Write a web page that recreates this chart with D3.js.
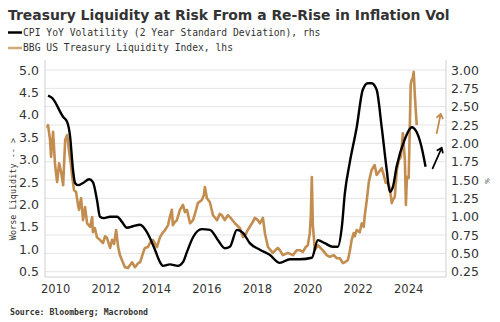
<!DOCTYPE html>
<meta charset="utf-8">
<script src="https://d3js.org/d3.v7.min.js"></script>
<style>
  body { margin: 0; background: #fff; }
  text { fill: #333; }
</style>
<div id="my_dataviz"></div>
<script>

  // CPI YoY volatility (rhs) - [year, value]
  var cpiYears = [2009.72, 2009.88, 2010.32, 2010.48, 2010.59, 2010.71, 2010.79, 2010.91, 2011.11, 2011.35,
    2011.50, 2011.66, 2011.78, 2011.94, 2012.18, 2012.46, 2012.65, 2012.85, 2013.09, 2013.37,
    2013.64, 2013.96, 2014.16, 2014.28, 2014.55, 2014.87, 2015.07, 2015.23, 2015.47, 2015.82,
    2016.14, 2016.46, 2016.73, 2016.93, 2017.21, 2017.45, 2017.72, 2018.12, 2018.51, 2018.91,
    2019.31, 2019.70, 2020.18, 2020.42, 2020.69, 2021.01, 2021.21, 2021.37, 2021.49, 2021.68,
    2021.96, 2022.20, 2022.40, 2022.55, 2022.75, 2022.95, 2023.15, 2023.27, 2023.39, 2023.54,
    2023.86, 2024.14, 2024.34, 2024.53, 2024.69];
  var cpiVol = [2.65, 2.62, 2.36, 2.29, 2.11, 1.64, 1.46, 1.43, 1.46, 1.51,
    1.47, 1.23, 1.00, 0.98, 1.00, 1.00, 0.93, 0.85, 0.87, 0.89,
    0.79, 0.55, 0.38, 0.33, 0.35, 0.33, 0.38, 0.52, 0.72, 0.83,
    0.82, 0.68, 0.57, 0.59, 0.82, 0.78, 0.64, 0.55, 0.48, 0.37,
    0.42, 0.42, 0.44, 0.68, 0.64, 0.59, 0.59, 0.86, 1.32, 1.73,
    2.22, 2.73, 2.82, 2.82, 2.73, 2.22, 1.64, 1.34, 1.40, 1.68,
    2.05, 2.22, 2.15, 1.95, 1.68];

  // BBG US Treasury liquidity index (lhs)
  var liqYears = [2009.68, 2009.72, 2009.80, 2009.84, 2009.92, 2010.00, 2010.08, 2010.16, 2010.24, 2010.32,
    2010.40, 2010.48, 2010.55, 2010.63, 2010.67, 2010.75, 2010.83, 2010.91, 2010.95, 2011.03,
    2011.11, 2011.19, 2011.27, 2011.39, 2011.47, 2011.50, 2011.58, 2011.66, 2011.78, 2011.90,
    2011.98, 2012.06, 2012.18, 2012.26, 2012.34, 2012.42, 2012.50, 2012.57, 2012.65, 2012.77,
    2012.89, 2013.05, 2013.17, 2013.29, 2013.37, 2013.49, 2013.56, 2013.68, 2013.76, 2013.88,
    2014.04, 2014.16, 2014.28, 2014.36, 2014.48, 2014.55, 2014.63, 2014.67, 2014.75, 2014.83,
    2014.95, 2015.07, 2015.15, 2015.23, 2015.35, 2015.47, 2015.59, 2015.66, 2015.82, 2015.90,
    2015.94, 2016.02, 2016.14, 2016.26, 2016.42, 2016.53, 2016.61, 2016.73, 2016.85, 2016.93,
    2017.13, 2017.33, 2017.45, 2017.56, 2017.64, 2017.84, 2017.92, 2018.04, 2018.12, 2018.24,
    2018.32, 2018.44, 2018.63, 2018.83, 2018.91, 2019.03, 2019.23, 2019.43, 2019.58, 2019.70,
    2019.82, 2019.94, 2020.02, 2020.10, 2020.14, 2020.18, 2020.22, 2020.30, 2020.42, 2020.61,
    2020.77, 2020.89, 2021.05, 2021.17, 2021.29, 2021.41, 2021.49, 2021.61, 2021.68, 2021.76,
    2021.84, 2021.88, 2021.96, 2022.08, 2022.16, 2022.24, 2022.28, 2022.36, 2022.44, 2022.55,
    2022.67, 2022.75, 2022.83, 2022.95, 2023.03, 2023.11, 2023.19, 2023.27, 2023.35, 2023.39,
    2023.47, 2023.55, 2023.63, 2023.71, 2023.79, 2023.87, 2023.91, 2023.95, 2024.02, 2024.06,
    2024.10, 2024.14, 2024.18, 2024.22, 2024.26, 2024.30, 2024.34];
  var liqIndex = [3.71, 3.77, 3.44, 3.06, 3.62, 2.88, 2.50, 2.92, 2.72, 2.43,
    3.44, 3.55, 3.21, 2.88, 2.66, 2.32, 2.28, 1.99, 1.88, 2.14,
    1.65, 1.94, 1.58, 1.50, 1.72, 1.38, 1.47, 1.27, 1.21, 1.14,
    1.29, 1.25, 1.03, 1.21, 1.12, 1.43, 1.05, 0.87, 0.76, 0.60,
    0.58, 0.71, 0.60, 0.69, 0.71, 0.92, 1.03, 1.05, 1.14, 1.21,
    1.05, 1.27, 1.38, 1.43, 1.54, 1.72, 1.88, 1.54, 1.61, 1.65,
    1.88, 1.99, 1.83, 1.88, 1.58, 1.65, 1.88, 2.03, 2.10, 2.21,
    2.39, 2.14, 2.05, 1.76, 1.65, 1.79, 1.76, 1.65, 1.76, 1.72,
    1.58, 1.47, 1.27, 1.34, 1.43, 1.61, 1.70, 1.65, 1.58, 1.70,
    1.36, 1.05, 0.92, 1.03, 0.98, 0.87, 0.92, 0.87, 0.98, 0.98,
    0.94, 1.05, 1.09, 1.36, 1.76, 2.61, 1.54, 0.98, 1.09, 0.98,
    0.87, 0.83, 0.87, 0.80, 0.80, 0.69, 0.71, 0.76, 0.94, 1.21,
    1.36, 1.29, 1.43, 1.38, 1.58, 1.50, 1.76, 2.10, 2.50, 2.77,
    2.88, 2.66, 2.72, 2.81, 2.66, 2.48, 2.50, 2.37, 2.03, 2.10,
    2.17, 2.77, 2.99, 3.06, 3.59, 2.99, 1.99, 2.61, 2.59, 3.59,
    4.67, 4.78, 4.82, 4.96, 4.49, 4.11, 3.77, 3.62];

  var leftTicks = [0.5, 1.0, 1.5, 2.0, 2.5, 3.0, 3.5, 4.0, 4.5, 5.0];
  var rightTicks = [0.25, 0.5, 0.75, 1.0, 1.25, 1.5, 1.75, 2.0, 2.25, 2.5, 2.75, 3.0];
  var yearTicks = [2010, 2012, 2014, 2016, 2018, 2020, 2022, 2024];

  var cpi = cpiYears.map(function(d, i) { return [d, cpiVol[i]]; });
  var liq = liqYears.map(function(d, i) { return [d, liqIndex[i]]; });

  var width = 500, height = 322;
  var plot = {left: 45, right: 446, top: 70, bottom: 271.7, frameTop: 60, frameBottom: 277};
  var gold = "#c28d4f";

  var svg = d3.select("#my_dataviz")
    .append("svg")
      .attr("width", width)
      .attr("height", height)
      .style("font-family", "'DejaVu Sans', Verdana, sans-serif");

  var x = d3.scaleLinear().domain([2009.6, 2025.5]).range([plot.left, plot.right]);
  var yL = d3.scaleLinear().domain([0.5, 5.0]).range([plot.bottom, plot.top]);
  var yR = d3.scaleLinear().domain([0.25, 3.0]).range([plot.bottom, plot.top]);

  // gridlines follow the right hand scale
  svg.append("g")
    .selectAll("line")
    .data(rightTicks)
    .enter().append("line")
      .attr("x1", plot.left).attr("x2", plot.right)
      .attr("y1", function(d) { return yR(d); })
      .attr("y2", function(d) { return yR(d); })
      .attr("stroke", "#e4e4e4")
      .attr("stroke-width", 1);

  // frame
  svg.append("path")
    .attr("d", "M" + plot.left + "," + plot.frameTop + "V" + plot.frameBottom + "H" + plot.right + "V" + plot.frameTop)
    .attr("fill", "none")
    .attr("stroke", "#cfcfcf")
    .attr("stroke-width", 1);

  // axes (labels only)
  var axisL = svg.append("g")
    .attr("transform", "translate(" + plot.left + ",0)")
    .call(d3.axisLeft(yL).tickValues(leftTicks).tickFormat(d3.format(".1f")).tickSize(0).tickPadding(6));
  var axisR = svg.append("g")
    .attr("transform", "translate(" + plot.right + ",0)")
    .call(d3.axisRight(yR).tickValues(rightTicks).tickFormat(d3.format(".2f")).tickSize(0).tickPadding(5));
  var axisB = svg.append("g")
    .attr("transform", "translate(0," + plot.frameBottom + ")")
    .call(d3.axisBottom(x).tickValues(yearTicks).tickFormat(d3.format("d")).tickSize(0).tickPadding(8));

  [axisL, axisR, axisB].forEach(function(a) {
    a.select(".domain").remove();
    a.selectAll("text").attr("fill", "#3a3a3a").style("font-size", "12.5px").style("font-family", "'DejaVu Sans', Verdana, sans-serif");
  });
  axisB.selectAll("text").style("font-size", "11.5px");

  var line = function(y) {
    return d3.line()
      .x(function(d) { return x(d[0]); })
      .y(function(d) { return y(d[1]); });
  };

  svg.append("path")
    .datum(liq)
    .attr("d", line(yL))
    .attr("fill", "none")
    .attr("stroke", gold)
    .attr("stroke-width", 2.6)
    .attr("stroke-linejoin", "round");

  svg.append("path")
    .datum(cpi)
    .attr("d", line(yR).curve(d3.curveMonotoneX))
    .attr("fill", "none")
    .attr("stroke", "#000")
    .attr("stroke-width", 2.4)
    .attr("stroke-linejoin", "round");

  // hand drawn arrows at the right
  var arrow = function(x0, y0, x1, y1, color) {
    var ang = Math.atan2(y1 - y0, x1 - x0), h = 5;
    var a1 = ang + Math.PI * 0.8, a2 = ang - Math.PI * 0.8;
    svg.append("path")
      .attr("d", "M" + x0 + "," + y0 + "L" + x1 + "," + y1 +
        "M" + (x1 + h * Math.cos(a1)) + "," + (y1 + h * Math.sin(a1)) + "L" + x1 + "," + y1 +
        "L" + (x1 + h * Math.cos(a2)) + "," + (y1 + h * Math.sin(a2)))
      .attr("fill", "none")
      .attr("stroke", color)
      .attr("stroke-width", 1.8)
      .attr("stroke-linecap", "round")
      .attr("stroke-linejoin", "round");
  };
  arrow(x(2024.97), yR(1.66), x(2025.33), yR(1.94), "#000");
  arrow(x(2025.13), yL(3.59), x(2025.29), yL(4.02), gold);

  // title and legend
  var title = svg.append("text")
    .attr("x", 8).attr("y", 20)
    .style("font-weight", "bold")
    .style("font-size", "15px")
    .attr("fill", "#111")
    .text("Treasury Liquidity at Risk From a Re-Rise in Inflation Vol");
  var tw = title.node().getComputedTextLength();
  title.style("font-size", (15 * 442 / tw) + "px");

  var legend = [
    {label: "CPI YoY Volatility (2 Year Standard Deviation), rhs", color: "#000", y: 32.5},
    {label: "BBG US Treasury Liquidity Index, lhs", color: "#d2a878", y: 48}
  ];
  legend.forEach(function(l) {
    svg.append("line")
      .attr("x1", 8).attr("x2", 22)
      .attr("y1", l.y).attr("y2", l.y)
      .attr("stroke", l.color).attr("stroke-width", 2.5);
    svg.append("text")
      .attr("x", 23).attr("y", l.y + 3.3)
      .style("font-family", "'DejaVu Sans Mono', monospace")
      .style("font-size", "9.7px")
      .attr("fill", "#333")
      .text(l.label);
  });

  // axis titles
  svg.append("text")
    .attr("transform", "translate(16,189) rotate(-90)")
    .attr("text-anchor", "middle")
    .style("font-family", "'DejaVu Sans Mono', monospace")
    .style("font-size", "8.5px")
    .attr("fill", "#444")
    .text("Worse Liquidity -- >");
  svg.append("text")
    .attr("transform", "translate(485,181) rotate(90)")
    .attr("text-anchor", "middle")
    .style("font-size", "6px")
    .attr("fill", "#444")
    .text("%");

  svg.append("text")
    .attr("x", 10).attr("y", 315)
    .style("font-family", "'DejaVu Sans Mono', monospace")
    .style("font-weight", "bold")
    .style("font-size", "8.2px")
    .attr("fill", "#222")
    .text("Source: Bloomberg; Macrobond");

</script>
